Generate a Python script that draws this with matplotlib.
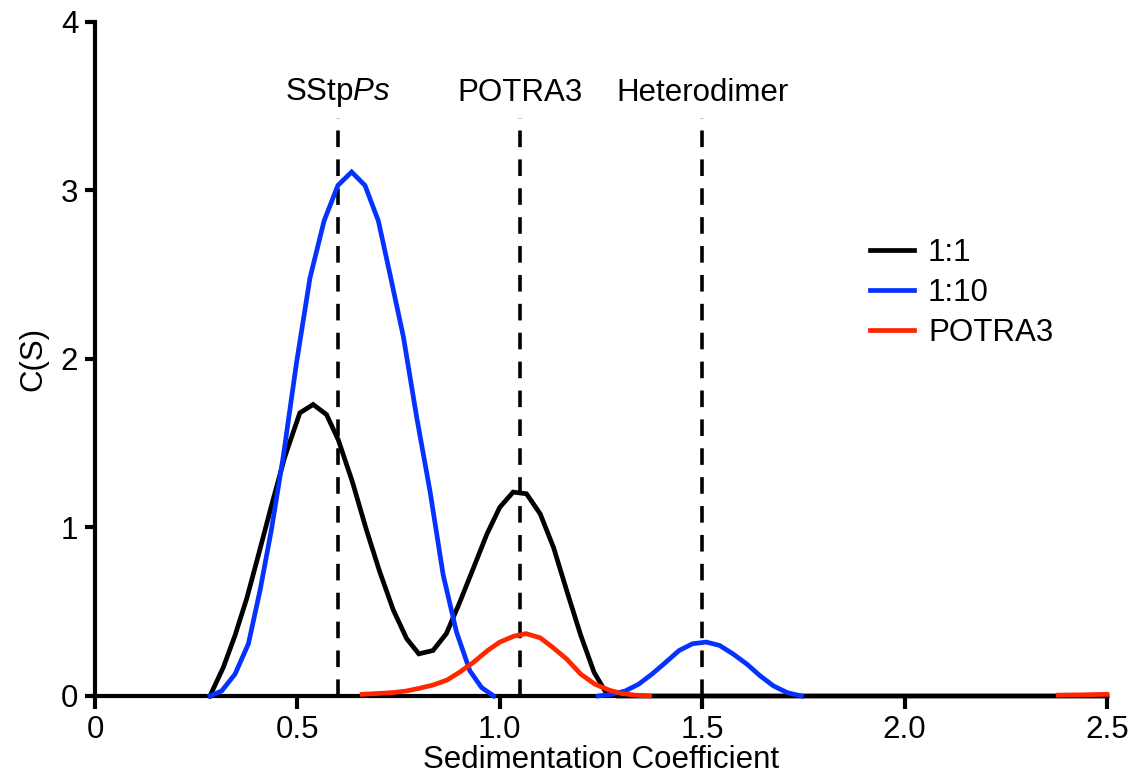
import numpy as np
import matplotlib
matplotlib.use("Agg")
import matplotlib.pyplot as plt

plt.rcParams['font.family'] = ['Liberation Sans', 'DejaVu Sans']
plt.rcParams['mathtext.fontset'] = 'custom'
plt.rcParams['mathtext.rm'] = 'Liberation Sans'
plt.rcParams['mathtext.it'] = 'Liberation Sans:italic'

# ---- data ----
s_11 = [0.284, 0.317, 0.346, 0.375, 0.403, 0.436, 0.469, 0.506, 0.539, 0.572,
        0.601, 0.636, 0.67, 0.703, 0.737, 0.77, 0.80, 0.835, 0.868, 0.90,
        0.935, 0.968, 1.00, 1.033, 1.066, 1.10, 1.133, 1.166, 1.20, 1.233,
        1.26, 1.29, 2.5]
c_11 = [0.0, 0.17, 0.36, 0.58, 0.83, 1.13, 1.42, 1.68, 1.73, 1.67,
        1.52, 1.27, 0.99, 0.74, 0.51, 0.34, 0.25, 0.27, 0.37, 0.55,
        0.76, 0.96, 1.12, 1.21, 1.20, 1.08, 0.88, 0.62, 0.36, 0.14,
        0.03, 0.0, 0.0]

s_110 = [0.284, 0.313, 0.346, 0.379, 0.408, 0.436, 0.465, 0.498, 0.531, 0.566,
         0.60, 0.634, 0.667, 0.70, 0.729, 0.762, 0.795, 0.828, 0.86, 0.893,
         0.926, 0.955, 0.985, np.nan,
         1.243, 1.276, 1.31, 1.343, 1.376, 1.41, 1.443, 1.476, 1.51, 1.543,
         1.576, 1.61, 1.643, 1.676, 1.71, 1.745]
c_110 = [0.0, 0.03, 0.13, 0.31, 0.63, 0.99, 1.42, 1.98, 2.48, 2.82,
         3.03, 3.11, 3.03, 2.82, 2.50, 2.13, 1.65, 1.21, 0.72, 0.38,
         0.15, 0.05, 0.0, np.nan,
         0.0, 0.01, 0.03, 0.07, 0.13, 0.20, 0.27, 0.31, 0.32, 0.30,
         0.25, 0.19, 0.12, 0.06, 0.02, 0.0]

s_potra = [0.66, 0.70, 0.735, 0.77, 0.80, 0.835, 0.87, 0.90, 0.935, 0.97,
           1.0, 1.035, 1.065, 1.10, 1.13, 1.165, 1.20, 1.235, 1.27, 1.30,
           1.335, 1.37, np.nan, 2.38, 2.44, 2.5]
c_potra = [0.01, 0.015, 0.02, 0.03, 0.045, 0.065, 0.095, 0.14, 0.20, 0.27,
           0.32, 0.355, 0.37, 0.345, 0.29, 0.22, 0.13, 0.07, 0.035, 0.015,
           0.005, 0.0, np.nan, 0.005, 0.007, 0.01]

marker_s = [0.6, 1.05, 1.5]
marker_labels = ['SStp$\\mathit{Ps}$', 'POTRA3', 'Heterodimer']

series_labels = ['1:1', '1:10', 'POTRA3']
series_colors = ['#000000', '#0532ff', '#ff2600']

xticks = [0, 0.5, 1.0, 1.5, 2.0, 2.5]
xticklabels = ['0', '0.5', '1.0', '1.5', '2.0', '2.5']
yticks = [0, 1, 2, 3, 4]

FS = 22.5

# ---- figure ----
fig = plt.figure(figsize=(11.35, 7.8), dpi=100)
ax = fig.add_axes([0.0837, 0.1077, 0.8916, 0.8641])

for xs, ys, lab, col in zip([s_11, s_110, s_potra], [c_11, c_110, c_potra],
                            series_labels, series_colors):
    ax.plot(xs, ys, color=col, lw=3.4, label=lab, clip_on=False, zorder=4,
            solid_joinstyle='miter')

for xm, lab in zip(marker_s, marker_labels):
    ax.plot([xm, xm], [0, 3.43], color='black', lw=2.6, dashes=(4.6, 3.4), zorder=3)
    ax.text(xm, 3.58, lab, ha='center', va='center', fontsize=FS)

ax.set_xlim(0, 2.5)
ax.set_ylim(0, 4)
ax.set_xticks(xticks)
ax.set_xticklabels(xticklabels)
ax.set_yticks(yticks)

for sp in ['top', 'right']:
    ax.spines[sp].set_visible(False)
for sp in ['left', 'bottom']:
    ax.spines[sp].set_linewidth(3)
    ax.spines[sp].set_zorder(2)

ax.tick_params(axis='both', direction='out', width=3, labelsize=FS)
ax.tick_params(axis='x', length=9, pad=5)
ax.tick_params(axis='y', length=7, pad=5)

ax.set_xlabel('Sedimentation Coefficient', fontsize=FS, labelpad=0)
ax.set_ylabel('C(S)', fontsize=FS, labelpad=9)

leg = ax.legend(loc='upper left', bbox_to_anchor=(0.766, 0.68), frameon=False,
                fontsize=FS, handlelength=1.4, handletextpad=0.45,
                labelspacing=0.33, borderpad=0, borderaxespad=0)

fig.savefig('out.png', dpi=100)
